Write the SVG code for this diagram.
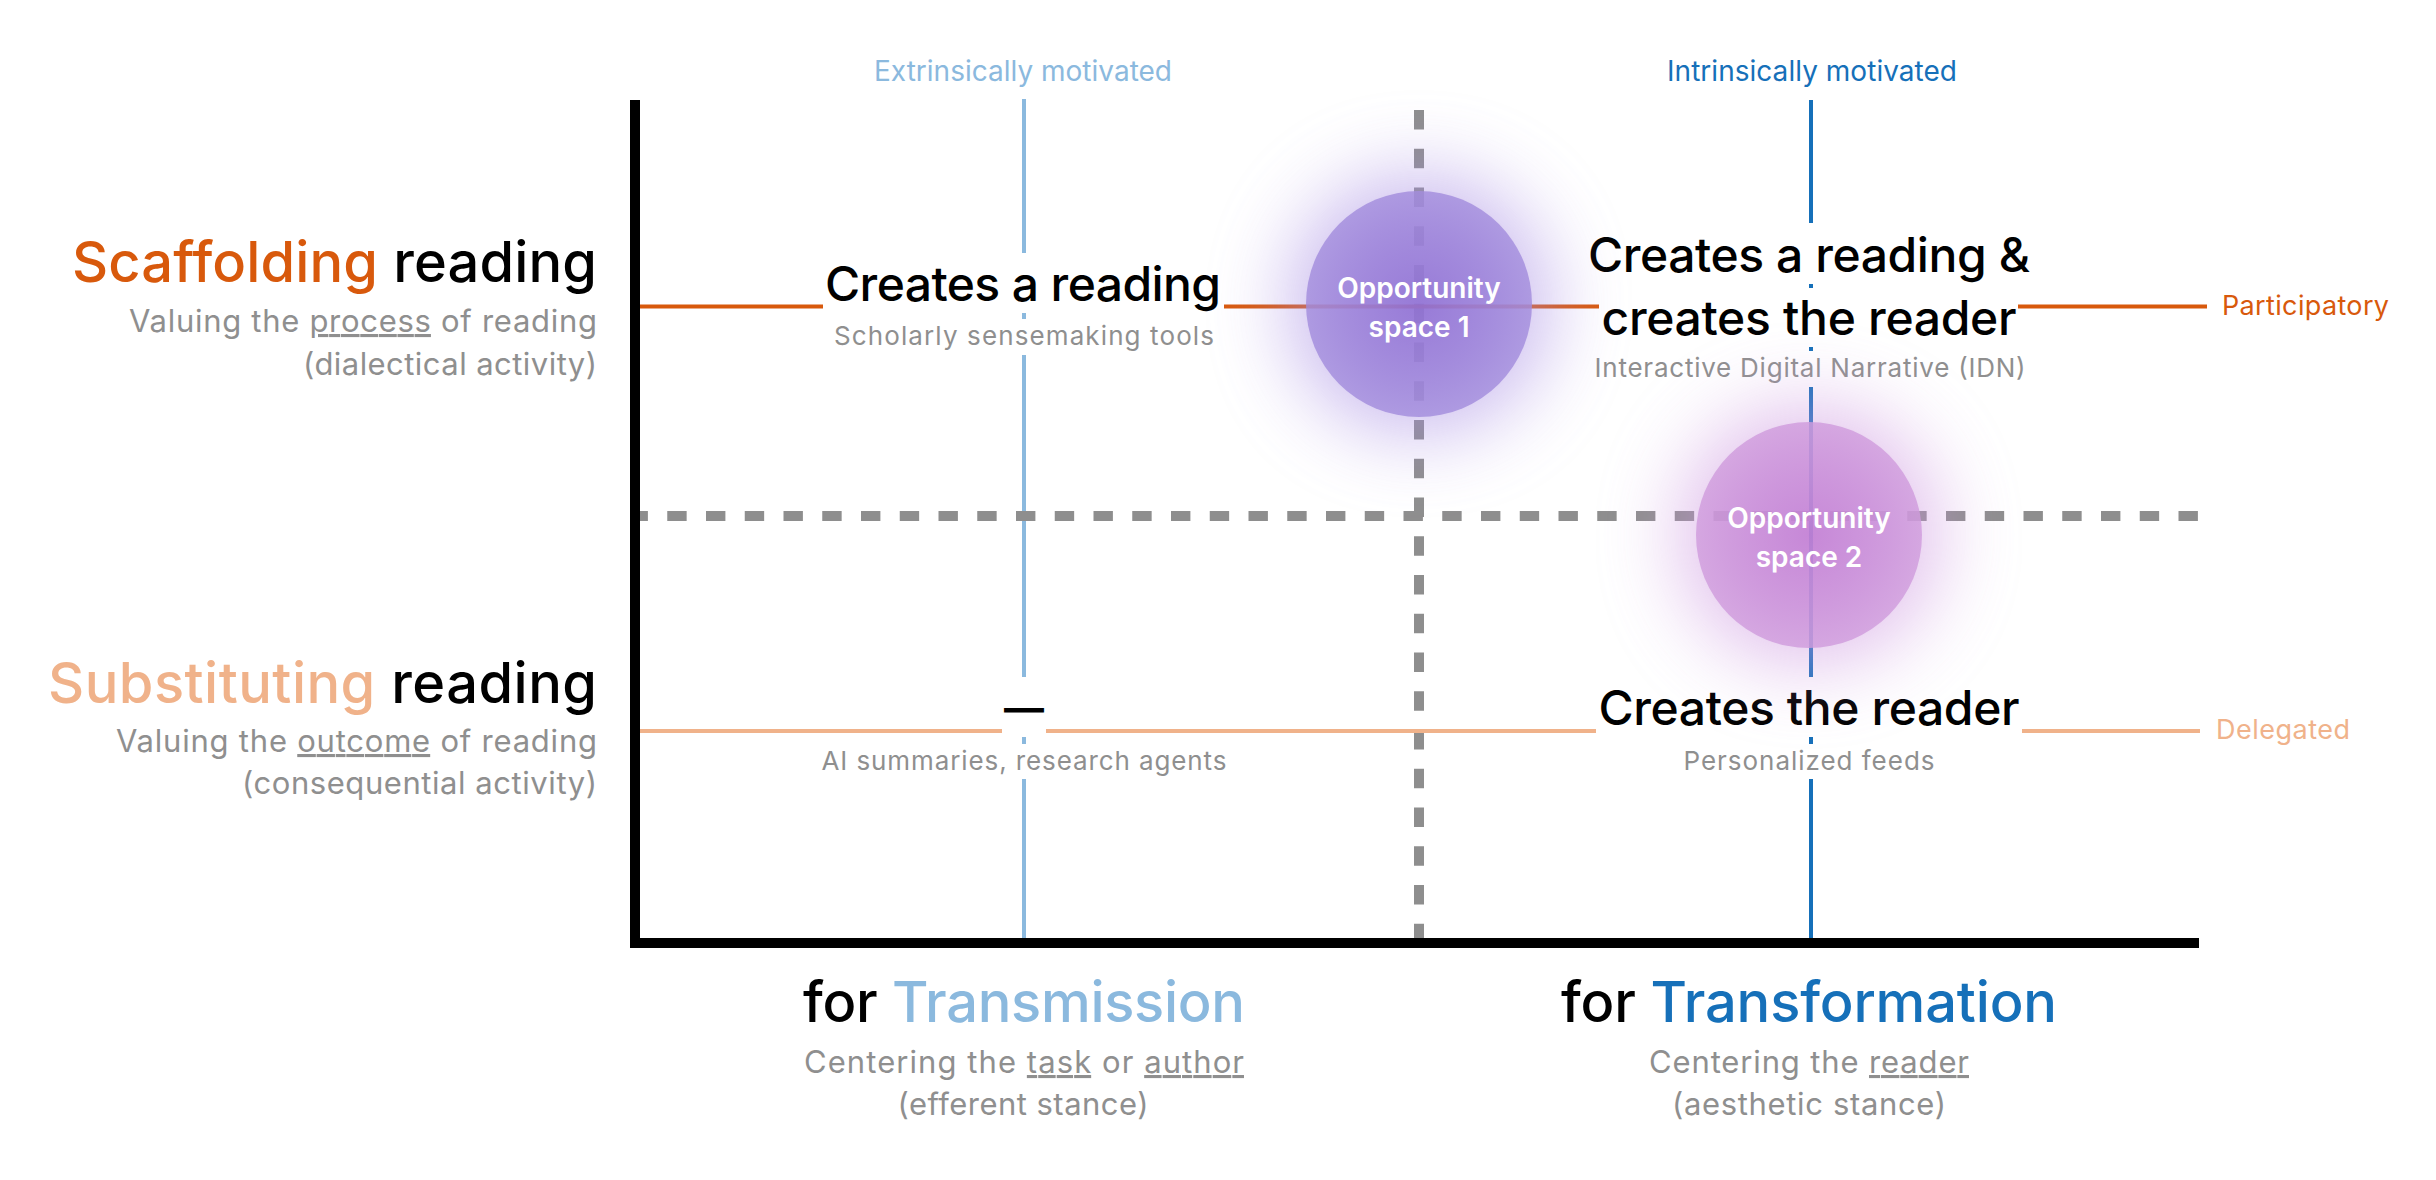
<svg xmlns="http://www.w3.org/2000/svg" width="2436" height="1180" viewBox="0 0 2436 1180">
<style>
text{font-family:Inter,"Liberation Sans",sans-serif}
.big{font-size:56px;font-weight:500;fill:#000}
.ttl{font-size:48px;font-weight:500;fill:#000;text-anchor:middle}
.sub{font-size:31px;fill:#8f8f8f}
.nsub{font-size:26px;fill:#8f8f8f;text-anchor:middle}
.top{font-size:28px;text-anchor:middle}
.side{font-size:27px}
.opp{font-size:28px;font-weight:600;fill:#fff;text-anchor:middle}
.u{text-decoration:underline}
.bg{fill:#fff}
.dash{stroke:#8e8e8e;stroke-width:10;stroke-dasharray:19.4 19.35;fill:none}
</style>
<defs>
<filter id="glow" x="-80%" y="-80%" width="260%" height="260%"><feGaussianBlur stdDeviation="40"/></filter>
<radialGradient id="g1"><stop offset="0" stop-color="#8d6dd2"/><stop offset="1" stop-color="#a38ddd"/></radialGradient>
<radialGradient id="g2"><stop offset="0" stop-color="#c17cd3"/><stop offset="1" stop-color="#d09cdd"/></radialGradient>
</defs>
<rect width="2436" height="1180" fill="#fff"/>

<g id="axes">
<rect x="630" y="100" width="10" height="848" fill="#000"/>
<rect x="630" y="938" width="1569" height="10" fill="#000"/>
</g>

<g id="connectors">
<line x1="1024" y1="99" x2="1024" y2="938" stroke="#8bb9de" stroke-width="4"/>
<line x1="1811" y1="100" x2="1811" y2="938" stroke="#1670b9" stroke-width="4"/>
<line class="dash" x1="1419" y1="110" x2="1419" y2="938"/>
<line class="dash" x1="640" y1="516" x2="2199" y2="516" stroke-dashoffset="11.5"/>
<line x1="640" y1="306.5" x2="2207" y2="306.5" stroke="#d8590c" stroke-width="4"/>
<line x1="640" y1="731" x2="2200" y2="731" stroke="#f0b28a" stroke-width="4"/>
</g>

<g id="label-extrinsic"><text class="top" x="1023" y="81" fill="#8bb9de" textLength="298">Extrinsically motivated</text></g>
<g id="label-intrinsic"><text class="top" x="1812" y="81" fill="#1670b9" textLength="290">Intrinsically motivated</text></g>
<g id="label-participatory"><text class="side" x="2222" y="315" fill="#d8590c" textLength="167">Participatory</text></g>
<g id="label-delegated"><text class="side" x="2216" y="739" fill="#f0b28a" textLength="134">Delegated</text></g>

<g id="row-scaffolding">
<text class="big" x="597" y="282" text-anchor="end" textLength="525"><tspan fill="#d8590c">Scaffolding</tspan> reading</text>
<text class="sub" x="597" y="332" text-anchor="end" textLength="468">Valuing the <tspan class="u">process</tspan> of reading</text>
<text class="sub" x="597" y="375" text-anchor="end" textLength="294">(dialectical activity)</text>
</g>
<g id="row-substituting">
<text class="big" x="597" y="703" text-anchor="end" textLength="549"><tspan fill="#f0b28a">Substituting</tspan> reading</text>
<text class="sub" x="597" y="752" text-anchor="end" textLength="481">Valuing the <tspan class="u">outcome</tspan> of reading</text>
<text class="sub" x="597" y="794" text-anchor="end" textLength="355">(consequential activity)</text>
</g>
<g id="col-transmission">
<text class="big" x="1024" y="1022" text-anchor="middle" textLength="442">for <tspan fill="#8bb9de">Transmission</tspan></text>
<text class="sub" x="1024" y="1073" text-anchor="middle" textLength="440">Centering the <tspan class="u">task</tspan> or <tspan class="u">author</tspan></text>
<text class="sub" x="1023" y="1115" text-anchor="middle" textLength="251">(efferent stance)</text>
</g>
<g id="col-transformation">
<text class="big" x="1809" y="1022" text-anchor="middle" textLength="496">for <tspan fill="#1670b9">Transformation</tspan></text>
<text class="sub" x="1809" y="1073" text-anchor="middle" textLength="320">Centering the <tspan class="u">reader</tspan></text>
<text class="sub" x="1809" y="1115" text-anchor="middle" textLength="274">(aesthetic stance)</text>
</g>

<g id="node-creates-reading">
<rect class="bg" x="823" y="253" width="401" height="60"/>
<rect class="bg" x="831" y="319" width="386" height="36"/>
<text class="ttl" x="1023" y="301" textLength="396">Creates a reading</text>
<text class="nsub" x="1024" y="345" textLength="380">Scholarly sensemaking tools</text>
</g>
<g id="node-creates-both">
<rect class="bg" x="1586" y="223" width="446" height="61"/>
<rect class="bg" x="1599" y="288" width="419" height="59"/>
<rect class="bg" x="1591" y="351" width="437" height="36"/>
<text class="ttl" x="1809" y="272" textLength="442">Creates a reading &amp;</text>
<text class="ttl" x="1809" y="335" textLength="415">creates the reader</text>
<text class="nsub" x="1810" y="377" textLength="431">Interactive Digital Narrative (IDN)</text>
</g>
<g id="node-dash">
<rect class="bg" x="1002" y="677" width="44" height="60"/>
<rect class="bg" x="818" y="744" width="412" height="35"/>
<text class="ttl" x="1024" y="725" textLength="40" lengthAdjust="spacingAndGlyphs">—</text>
<text class="nsub" x="1024" y="770" textLength="405">AI summaries, research agents</text>
</g>
<g id="node-creates-reader">
<rect class="bg" x="1596" y="677" width="426" height="60"/>
<rect class="bg" x="1681" y="744" width="257" height="35"/>
<text class="ttl" x="1809" y="725" textLength="421">Creates the reader</text>
<text class="nsub" x="1809" y="770" textLength="251">Personalized feeds</text>
</g>

<g id="opportunity-1">
<circle cx="1419" cy="304" r="130" fill="#a68be3" opacity="0.6" filter="url(#glow)"/>
<circle cx="1419" cy="304" r="113" fill="url(#g1)" opacity="0.82"/>
<text class="opp" x="1419" y="298">Opportunity</text>
<text class="opp" x="1419" y="337">space 1</text>
</g>
<g id="opportunity-2">
<circle cx="1809" cy="535" r="130" fill="#cc95df" opacity="0.6" filter="url(#glow)"/>
<circle cx="1809" cy="535" r="113" fill="url(#g2)" opacity="0.82"/>
<text class="opp" x="1809" y="528">Opportunity</text>
<text class="opp" x="1809" y="567">space 2</text>
</g>
</svg>
